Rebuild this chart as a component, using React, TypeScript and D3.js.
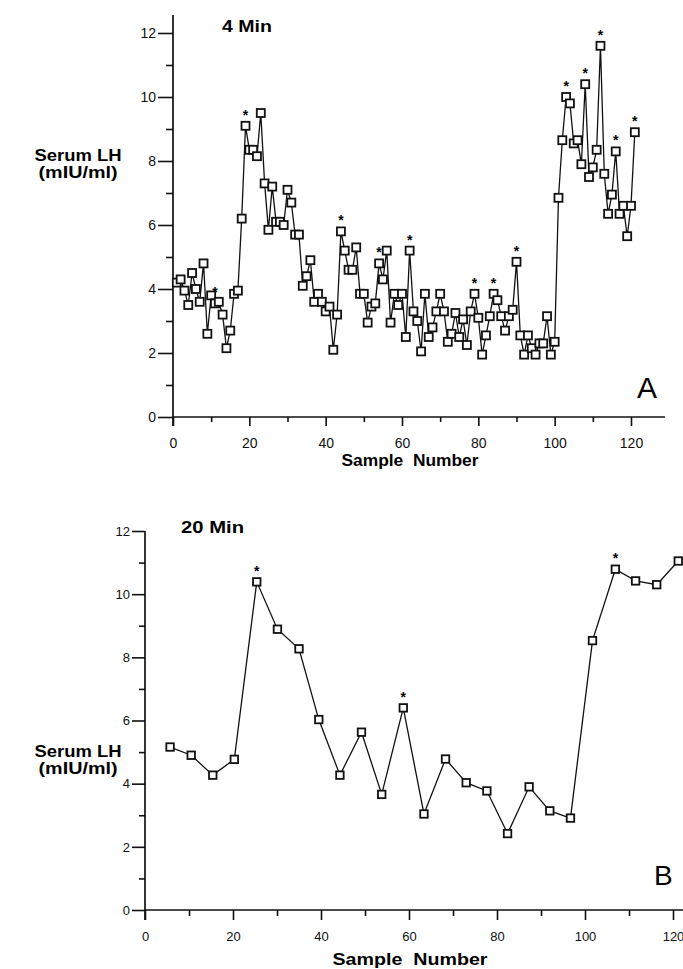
import React, { useEffect, useRef } from 'react';
import * as d3 from 'd3';

// panel A: serum LH every 4 min, samples 1..121
const lh4Min = [
  4.2, 4.3, 3.95, 3.5, 4.5, 4.0, 3.6, 4.8, 2.6, 3.8,
  3.55, 3.6, 3.2, 2.15, 2.7, 3.85, 3.95, 6.2, 9.1, 8.35,
  8.35, 8.15, 9.5, 7.3, 5.85, 7.2, 6.1, 6.1, 6.0, 7.1,
  6.7, 5.7, 5.7, 4.1, 4.4, 4.9, 3.6, 3.85, 3.6, 3.3,
  3.45, 2.1, 3.2, 5.8, 5.2, 4.6, 4.6, 5.3, 3.85, 3.85,
  2.95, 3.45, 3.55, 4.8, 4.3, 5.2, 2.95, 3.85, 3.5, 3.85,
  2.5, 5.2, 3.3, 3.0, 2.05, 3.85, 2.5, 2.8, 3.3, 3.85,
  3.3, 2.35, 2.6, 3.25, 2.5, 3.05, 2.25, 3.3, 3.85, 3.1,
  1.95, 2.55, 3.15, 3.85, 3.65, 3.15, 2.7, 3.15, 3.35, 4.85,
  2.55, 1.95, 2.55, 2.15, 1.95, 2.3, 2.3, 3.15, 1.95, 2.35,
  6.85, 8.65, 10.0, 9.8, 8.55, 8.65, 7.9, 10.4, 7.5, 7.8,
  8.35, 11.6, 7.6, 6.35, 6.95, 8.3, 6.35, 6.6, 5.65, 6.6,
  8.9,
];
const stars4Min = [11, 19, 44, 54, 62, 79, 84, 90, 103, 108, 112, 116, 121];

// panel B: serum LH every 20 min
const samples20Min = [
  5.7, 10.5, 15.4, 20.3, 25.4, 30.1, 35, 39.5, 44.3, 49.2, 53.8, 58.7, 63.4,
  68.3, 73, 77.7, 82.4, 87.3, 92, 96.7, 101.7, 106.9, 111.5, 116.3, 121.2,
];
const lh20Min = [
  5.16, 4.9, 4.27, 4.77, 10.39, 8.89, 8.27, 6.03, 4.27, 5.63, 3.66, 6.4, 3.04,
  4.78, 4.03, 3.77, 2.42, 3.9, 3.14, 2.91, 8.53, 10.79, 10.42, 10.3, 11.05,
];
const stars20Min = [25.4, 58.7, 106.9];

const yMajor = [0, 2, 4, 6, 8, 10, 12];
const yMinor = [1, 3, 5, 7, 9, 11];
const xMajor = [0, 20, 40, 60, 80, 100, 120];
const xMinor = [10, 30, 50, 70, 90, 110];

const FONT = "'Liberation Sans', Arial, Helvetica, sans-serif";

type Panel = {
  samples: number[];
  values: number[];
  stars: number[];
  x0: number; x120: number; y0: number; y12: number;
  yAxisTop: number; xAxisEnd: number;
  yMajorLen: number; yMinorLen: number;
  xMajorLen: number; xMinorLen: number; xPad: number;
  tickFont: number; box: number;
  title: string; titleX: number; titleY: number; titleLen: number;
  letter: string; letterX: number; letterY: number; letterSize: number;
  serumY: number; sampleY: number; sampleLen: number;
};

function drawPanel(svg: d3.Selection<SVGSVGElement, unknown, null, undefined>, p: Panel) {
  const x = d3.scaleLinear().domain([0, 120]).range([p.x0, p.x120]);
  const y = d3.scaleLinear().domain([0, 12]).range([p.y0, p.y12]);
  const g = svg.append('g');

  // axis lines
  g.append('line')
    .attr('x1', x(0)).attr('x2', x(0))
    .attr('y1', p.yAxisTop).attr('y2', p.y0 + p.xMajorLen)
    .attr('stroke', '#111').attr('stroke-width', 1.7);
  g.append('line')
    .attr('x1', x(0)).attr('x2', p.xAxisEnd)
    .attr('y1', y(0)).attr('y2', y(0))
    .attr('stroke', '#111').attr('stroke-width', 1.7);

  const yAx = g.append('g').attr('transform', `translate(${x(0)},0)`)
    .call(d3.axisLeft(y).tickValues(yMajor).tickSize(p.yMajorLen).tickPadding(2).tickFormat(d3.format('d')));
  const yAxMinor = g.append('g').attr('transform', `translate(${x(0)},0)`)
    .call(d3.axisLeft(y).tickValues(yMinor).tickSize(p.yMinorLen).tickFormat(() => ''));
  const xAx = g.append('g').attr('transform', `translate(0,${y(0)})`)
    .call(d3.axisBottom(x).tickValues(xMajor).tickSize(p.xMajorLen).tickPadding(p.xPad).tickFormat(d3.format('d')));
  const xAxMinor = g.append('g').attr('transform', `translate(0,${y(0)})`)
    .call(d3.axisBottom(x).tickValues(xMinor).tickSize(p.xMinorLen).tickFormat(() => ''));
  [yAx, yAxMinor, xAx, xAxMinor].forEach((a) => {
    a.select('.domain').remove();
    a.selectAll('line').attr('stroke', '#111').attr('stroke-width', 1.6);
    a.selectAll('text').attr('font-family', FONT).attr('font-size', p.tickFont).attr('fill', '#111');
  });

  const pts = p.samples.map((s, i) => ({ s, v: p.values[i] }));
  const line = d3.line<{ s: number; v: number }>().x((d) => x(d.s)).y((d) => y(d.v));
  g.append('path').datum(pts).attr('d', line)
    .attr('fill', 'none').attr('stroke', '#111').attr('stroke-width', 1.3);

  g.selectAll('rect.pt').data(pts).enter().append('rect')
    .attr('x', (d) => x(d.s) - p.box / 2)
    .attr('y', (d) => y(d.v) - p.box / 2)
    .attr('width', p.box).attr('height', p.box)
    .attr('fill', '#fff').attr('stroke', '#111').attr('stroke-width', 1.8);

  g.selectAll('text.star').data(pts.filter((d) => p.stars.includes(d.s))).enter().append('text')
    .attr('x', (d) => x(d.s))
    .attr('y', (d) => y(d.v) - 6)
    .attr('text-anchor', 'middle')
    .attr('font-family', FONT).attr('font-size', 14).attr('font-weight', 'bold')
    .text('*');

  g.append('text').attr('x', p.titleX).attr('y', p.titleY)
    .attr('font-family', FONT).attr('font-size', 17).attr('font-weight', 'bold')
    .attr('textLength', p.titleLen).attr('lengthAdjust', 'spacingAndGlyphs')
    .text(p.title);

  g.append('text').attr('x', 78).attr('y', p.serumY).attr('text-anchor', 'middle')
    .attr('font-family', FONT).attr('font-size', 16).attr('font-weight', 'bold')
    .attr('textLength', 87).attr('lengthAdjust', 'spacingAndGlyphs')
    .text('Serum LH');
  g.append('text').attr('x', 78).attr('y', p.serumY + 17).attr('text-anchor', 'middle')
    .attr('font-family', FONT).attr('font-size', 16).attr('font-weight', 'bold')
    .attr('textLength', 79).attr('lengthAdjust', 'spacingAndGlyphs')
    .text('(mIU/ml)');

  g.append('text').attr('x', 410).attr('y', p.sampleY).attr('text-anchor', 'middle')
    .attr('font-family', FONT).attr('font-size', 16).attr('font-weight', 'bold')
    .attr('textLength', p.sampleLen).attr('lengthAdjust', 'spacingAndGlyphs')
    .attr('xml:space', 'preserve')
    .text('Sample  Number');

  g.append('text').attr('x', p.letterX).attr('y', p.letterY)
    .attr('font-family', FONT).attr('font-size', p.letterSize)
    .text(p.letter);
}

const App = () => {
  const ref = useRef<SVGSVGElement>(null);

  useEffect(() => {
    const svg = d3.select(ref.current!);
    svg.selectAll('*').remove();

    drawPanel(svg, {
      samples: lh4Min.map((_, i) => i + 1),
      values: lh4Min,
      stars: stars4Min,
      x0: 173, x120: 631, y0: 417, y12: 33,
      yAxisTop: 15, xAxisEnd: 665,
      yMajorLen: 15, yMinorLen: 7,
      xMajorLen: 9, xMinorLen: 5, xPad: 12,
      tickFont: 14, box: 8,
      title: '4 Min', titleX: 222, titleY: 32, titleLen: 50,
      letter: 'A', letterX: 637, letterY: 398, letterSize: 30,
      serumY: 161, sampleY: 466, sampleLen: 137,
    });

    drawPanel(svg, {
      samples: samples20Min,
      values: lh20Min,
      stars: stars20Min,
      x0: 145, x120: 673, y0: 910, y12: 531,
      yAxisTop: 531, xAxisEnd: 683,
      yMajorLen: 13, yMinorLen: 6,
      xMajorLen: 10, xMinorLen: 6, xPad: 12,
      tickFont: 13, box: 7.5,
      title: '20 Min', titleX: 181, titleY: 533, titleLen: 63,
      letter: 'B', letterX: 654, letterY: 885, letterSize: 28,
      serumY: 757, sampleY: 965, sampleLen: 155,
    });
  }, []);

  return (
    <svg
      ref={ref}
      width={683}
      height={969}
      style={{ position: 'absolute', left: 0, top: 0, background: '#fff' }}
    />
  );
};

export default App;
